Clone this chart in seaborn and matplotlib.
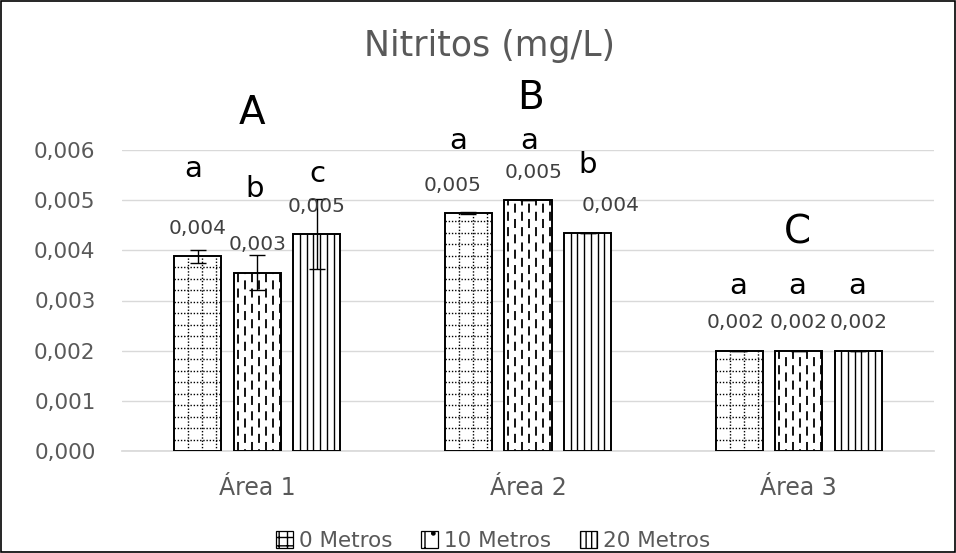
import numpy as np
import pandas as pd
import matplotlib
matplotlib.use("Agg")
import matplotlib.pyplot as plt
from matplotlib.patches import Rectangle, Patch
import seaborn as sns

# ---- data ----
areas = ["Área 1", "Área 2", "Área 3"]
depths = ["0 Metros", "10 Metros", "20 Metros"]
values_0m = [0.00388, 0.00474, 0.0020]
values_10m = [0.00355, 0.00500, 0.0020]
values_20m = [0.00432, 0.00434, 0.0020]
err_0m = [0.00013, 0.00002, 0.0]
err_10m = [0.00035, 0.0, 0.0]
err_20m = [0.00070, 0.0, 0.0]
labels_0m = ["0,004", "0,005", "0,002"]
labels_10m = ["0,003", "0,005", "0,002"]
labels_20m = ["0,005", "0,004", "0,002"]
group_letters = ["A", "B", "C"]
letters_0m = ["a", "a", "a"]
letters_10m = ["b", "a", "a"]
letters_20m = ["c", "b", "a"]
yticks = [0.000, 0.001, 0.002, 0.003, 0.004, 0.005, 0.006]

values = [values_0m, values_10m, values_20m]
errors = [err_0m, err_10m, err_20m]
bar_labels = [labels_0m, labels_10m, labels_20m]
letters = [letters_0m, letters_10m, letters_20m]

rows = []
for d, vals in zip(depths, values):
    for a, v in zip(areas, vals):
        rows.append({"area": a, "depth": d, "value": v})
df = pd.DataFrame(rows)

# ---- layout (annotation placements) ----
group_letter_pos = [(-0.018, 0.00673), (1.011, 0.00704), (1.994, 0.00435)]
letter_pos = [
    [(-0.236, 0.00563), (0.741, 0.00618), (1.776, 0.00329)],
    [(-0.009, 0.00522), (1.004, 0.00618), (1.994, 0.00329)],
    [(0.220, 0.00552), (1.222, 0.00570), (2.216, 0.00329)],
]
label_dx_px = [[0, -16, -3], [0, 6, 0], [0, 23, 0]]

sns.set_theme(style="white")
plt.rcParams["font.family"] = ["DejaVu Sans"]

fig = plt.figure(figsize=(9.56, 5.53), dpi=100)
ax = fig.add_axes([122 / 956, 1 - 451 / 553, (934 - 122) / 956, (451 - 150) / 553])

sns.barplot(data=df, x="area", y="value", hue="depth", order=areas, hue_order=depths,
            palette=["white"] * 3, saturation=1, width=0.66, gap=0.21,
            edgecolor="black", linewidth=1.4, errorbar=None, legend=False, ax=ax, zorder=3)

ax.set_xlim(-0.5, 2.5)
ax.set_ylim(0, 0.006)

# pixel sizes in data units
px_x = 3.0 / (934 - 122)
px_y = 0.006 / (451 - 150)

bar_containers = list(ax.containers)
for h, cont in enumerate(bar_containers):
    for p in cont.patches:
        x0, w, hgt = p.get_x(), p.get_width(), p.get_height()
        if h == 0:
            xs = np.arange(x0 + 14 * px_x, x0 + w - 2 * px_x, 14 * px_x)
            ys = np.arange(11.5 * px_y, hgt, 11.5 * px_y)
            lc1 = ax.vlines(xs, 0, hgt, colors="black", linewidth=1.0,
                            linestyles=[(0, (1, 1.3))], zorder=4)
            lc2 = ax.hlines(ys, x0, x0 + w, colors="black", linewidth=1.0,
                            linestyles=[(0, (1, 1.3))], zorder=4)
            lc1.set_clip_path(p)
            lc2.set_clip_path(p)
        elif h == 1:
            xs = np.arange(x0 + 4 * px_x, x0 + w - 1 * px_x, 7 * px_x)
            for i, xx in enumerate(xs):
                ln, = ax.plot([xx, xx], [0, hgt], color="black", linewidth=1.3,
                              linestyle=(0 if i % 2 == 0 else 4, (5, 3.5)), zorder=4)
                ln.set_clip_path(p)
        else:
            xs = np.arange(x0 + 6.7 * px_x, x0 + w - 1 * px_x, 6.7 * px_x)
            lc = ax.vlines(xs, 0, hgt, colors="black", linewidth=1.0, zorder=4)
            lc.set_clip_path(p)

for h, cont in enumerate(bar_containers):
    centers = [p.get_x() + p.get_width() / 2 for p in cont.patches]
    heights = [p.get_height() for p in cont.patches]
    ax.errorbar(centers, heights, yerr=errors[h], fmt="none", ecolor="black",
                elinewidth=1.0, capsize=6, capthick=1.0, zorder=5)
    for j, (cx, hy) in enumerate(zip(centers, heights)):
        ax.annotate(bar_labels[h][j], (cx + label_dx_px[h][j] * px_x, hy),
                    xytext=(0, 28), textcoords="offset pixels", ha="center", va="center",
                    fontsize=14.5, color="#404040", annotation_clip=False, zorder=6)
        lx, ly = letter_pos[h][j]
        ax.text(lx, ly, letters[h][j], ha="center", va="center", fontsize=21,
                color="black", zorder=6)

for (gx, gy), g in zip(group_letter_pos, group_letters):
    ax.text(gx, gy, g, ha="center", va="center", fontsize=28, color="black", zorder=6)

ax.set_yticks(yticks)
ax.set_yticklabels([f"{t:.3f}".replace(".", ",") for t in yticks])
ax.yaxis.grid(True, color="#d9d9d9", linewidth=1)
ax.set_axisbelow(True)
for s in ["top", "right", "left"]:
    ax.spines[s].set_visible(False)
ax.spines["bottom"].set_color("#d9d9d9")
ax.tick_params(axis="y", length=0, pad=19, labelsize=15.5, labelcolor="#595959")
ax.tick_params(axis="x", length=0, pad=18, labelsize=17, labelcolor="#595959")
ax.set_xlabel("")
ax.set_ylabel("")

fig.text(489 / 956, 1 - 46 / 553, "Nitritos (mg/L)", ha="center", va="center",
         fontsize=25, color="#595959")

handles = [Patch(facecolor="white", edgecolor="black", hatch=hh, linewidth=0.9)
           for hh in ["++", "|.", "|||"]]
fig.legend(handles, depths, loc="center", bbox_to_anchor=(493 / 956, 1 - 541 / 553),
           ncol=3, frameon=False, fontsize=15.5, labelcolor="#595959",
           handlelength=0.8, handleheight=0.8, handletextpad=0.3, columnspacing=1.3,
           borderpad=0)

fig.patches.append(Rectangle((1 / 956, 1 / 553), 954 / 956, 551 / 553, transform=fig.transFigure,
                             fill=False, edgecolor="black", linewidth=1.2))

fig.savefig("out.png", dpi=100)
